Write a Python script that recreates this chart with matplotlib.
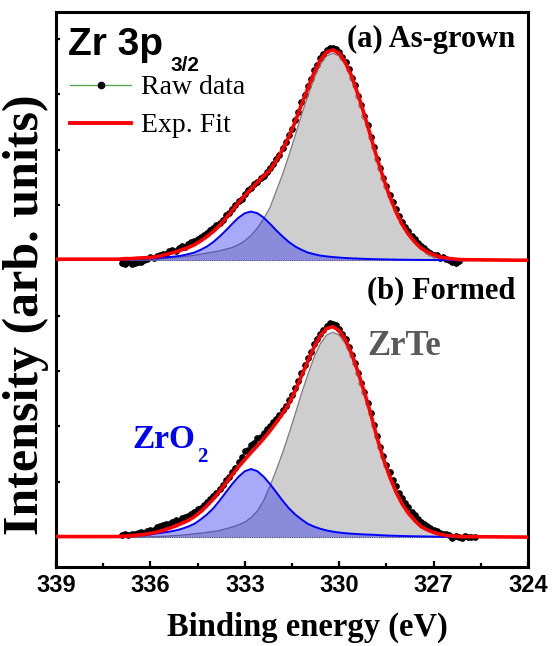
import numpy as np
import matplotlib
matplotlib.use('Agg')
import matplotlib.pyplot as plt
from matplotlib.lines import Line2D

# binding energy grid (eV) of the fitted components
energy = [337.0, 336.8, 336.6, 336.4, 336.2, 336.0, 335.8, 335.6, 335.4, 335.2,
          335.0, 334.8, 334.6, 334.4, 334.2, 334.0, 333.8, 333.6, 333.4, 333.2,
          333.0, 332.8, 332.6, 332.4, 332.2, 332.0, 331.8, 331.6, 331.4, 331.2,
          331.0, 330.8, 330.6, 330.4, 330.2, 330.0, 329.8, 329.6, 329.4, 329.2,
          329.0, 328.8, 328.6, 328.4, 328.2, 328.0, 327.8, 327.6, 327.4, 327.2,
          327.0, 326.8, 326.6, 326.4, 326.2, 326.0]
fit_energy = [339.0] + energy + [324.0]

# (a) As-grown
zrte_a = [0, 0, 0, 0.003, 0.006, 0.012, 0.02, 0.03, 0.04, 0.05,
          0.06, 0.075, 0.09, 0.11, 0.13, 0.15, 0.17, 0.20, 0.23, 0.28,
          0.35, 0.45, 0.58, 0.75, 0.95, 1.25, 1.55, 1.89, 2.25, 2.62,
          2.96, 3.28, 3.53, 3.69, 3.74, 3.69, 3.53, 3.28, 2.96, 2.60,
          2.21, 1.83, 1.47, 1.15, 0.87, 0.64, 0.46, 0.32, 0.21, 0.14,
          0.09, 0.055, 0.033, 0.02, 0.01, 0.005]
zro2_a = [0.008, 0.011, 0.015, 0.02, 0.026, 0.033, 0.04, 0.049, 0.058, 0.07,
          0.085, 0.11, 0.14, 0.19, 0.25, 0.33, 0.43, 0.54, 0.66, 0.77,
          0.85, 0.88, 0.85, 0.77, 0.66, 0.54, 0.43, 0.33, 0.25, 0.19,
          0.14, 0.11, 0.085, 0.07, 0.058, 0.049, 0.041, 0.035, 0.03, 0.026,
          0.022, 0.019, 0.016, 0.014, 0.012, 0.01, 0.009, 0.008, 0.007, 0.006,
          0.005, 0.004, 0.003, 0.002, 0.001, 0.0]
fit_a = [0.02,
         0.02, 0.03, 0.03, 0.04, 0.045, 0.05, 0.065, 0.09, 0.12, 0.15,
         0.19, 0.23, 0.28, 0.35, 0.43, 0.52, 0.63, 0.76, 0.90, 1.04,
         1.17, 1.29, 1.41, 1.52, 1.63, 1.80, 2.00, 2.23, 2.50, 2.81,
         3.10, 3.39, 3.62, 3.76, 3.80, 3.74, 3.57, 3.32, 2.99, 2.63,
         2.24, 1.85, 1.49, 1.16, 0.88, 0.65, 0.47, 0.33, 0.22, 0.15,
         0.10, 0.06, 0.04, 0.025, 0.015, 0.01,
         0.0]
raw_energy_a = np.round(np.arange(336.9, 326.15, -0.1), 1)
raw_a = [-0.05, -0.06, -0.04, -0.06, -0.05, -0.03, -0.04, 0.00, 0.03, 0.06,
         0.04, 0.08, 0.10, 0.12, 0.11, 0.16, 0.18, 0.17, 0.22, 0.25,
         0.24, 0.29, 0.33, 0.34, 0.38, 0.42, 0.45, 0.49, 0.55, 0.58,
         0.64, 0.68, 0.73, 0.82, 0.86, 0.92, 1.00, 1.07, 1.10, 1.19,
         1.27, 1.30, 1.38, 1.41, 1.49, 1.53, 1.60, 1.66, 1.74, 1.83,
         1.90, 2.03, 2.13, 2.26, 2.38, 2.54, 2.67, 2.85, 2.98, 3.15,
         3.28, 3.43, 3.53, 3.66, 3.73, 3.79, 3.83, 3.84, 3.81, 3.76,
         3.68, 3.58, 3.45, 3.30, 3.16, 2.96, 2.80, 2.60, 2.44, 2.22,
         2.04, 1.83, 1.66, 1.48, 1.34, 1.18, 1.05, 0.92, 0.80, 0.70,
         0.61, 0.52, 0.44, 0.38, 0.31, 0.26, 0.22, 0.17, 0.14, 0.10,
         0.09, 0.05, 0.06, 0.02, 0.01, -0.03, -0.05, -0.02]

# (b) Formed
zrte_b = [0, 0, 0, 0, 0.002, 0.005, 0.009, 0.014, 0.02, 0.028,
          0.035, 0.045, 0.06, 0.07, 0.085, 0.10, 0.12, 0.15, 0.18, 0.22,
          0.27, 0.35, 0.47, 0.66, 0.92, 1.21, 1.52, 1.86, 2.22, 2.59,
          2.93, 3.245, 3.49, 3.65, 3.70, 3.65, 3.49, 3.245, 2.93, 2.57,
          2.19, 1.76, 1.39, 1.07, 0.80, 0.58, 0.41, 0.28, 0.18, 0.12,
          0.075, 0.045, 0.027, 0.016, 0.008, 0.004]
zro2_b = [0.01, 0.015, 0.02, 0.028, 0.036, 0.045, 0.065, 0.08, 0.098, 0.12,
          0.15, 0.19, 0.24, 0.32, 0.41, 0.52, 0.66, 0.81, 0.96, 1.09,
          1.19, 1.23, 1.19, 1.09, 0.96, 0.81, 0.66, 0.52, 0.41, 0.32,
          0.24, 0.19, 0.15, 0.12, 0.098, 0.082, 0.07, 0.061, 0.054, 0.048,
          0.043, 0.038, 0.031, 0.027, 0.023, 0.02, 0.017, 0.015, 0.013, 0.011,
          0.009, 0.007, 0.005, 0.004, 0.002, 0.001]
fit_b = [0.01,
         0.01, 0.02, 0.025, 0.035, 0.05, 0.065, 0.09, 0.12, 0.16, 0.20,
         0.25, 0.30, 0.37, 0.46, 0.57, 0.69, 0.83, 0.98, 1.13, 1.27,
         1.40, 1.53, 1.65, 1.78, 1.92, 2.07, 2.23, 2.41, 2.64, 2.91,
         3.17, 3.43, 3.64, 3.77, 3.80, 3.73, 3.56, 3.31, 2.98, 2.62,
         2.23, 1.80, 1.42, 1.10, 0.82, 0.60, 0.43, 0.30, 0.19, 0.13,
         0.084, 0.052, 0.032, 0.02, 0.012, 0.008,
         0.0]
raw_energy_b = np.round(np.arange(336.9, 325.65, -0.1), 1)
raw_b = [0.04, 0.05, 0.03, 0.06, 0.05, 0.07, 0.09, 0.08, 0.11, 0.13,
         0.13, 0.18, 0.20, 0.21, 0.24, 0.23, 0.27, 0.30, 0.29, 0.34,
         0.36, 0.39, 0.41, 0.45, 0.50, 0.53, 0.58, 0.63, 0.69, 0.75,
         0.80, 0.86, 0.95, 1.03, 1.09, 1.18, 1.25, 1.36, 1.44, 1.55,
         1.58, 1.66, 1.70, 1.79, 1.80, 1.88, 1.95, 2.00, 2.08, 2.14,
         2.20, 2.29, 2.37, 2.48, 2.57, 2.70, 2.82, 2.97, 3.10, 3.23,
         3.35, 3.48, 3.58, 3.67, 3.74, 3.81, 3.86, 3.84, 3.83, 3.75,
         3.66, 3.57, 3.44, 3.29, 3.14, 2.97, 2.79, 2.62, 2.43, 2.24,
         2.03, 1.82, 1.63, 1.47, 1.30, 1.17, 1.03, 0.92, 0.80, 0.71,
         0.62, 0.54, 0.46, 0.40, 0.33, 0.28, 0.23, 0.20, 0.16, 0.13,
         0.11, 0.08, 0.06, 0.05, 0.03, -0.02, 0.02, 0.01, -0.01, 0.02,
         0.00, 0.01, 0.00]

x_ticks = [339, 336, 333, 330, 327, 324]
x_minor = [337.5, 334.5, 331.5, 328.5, 325.5]
legend_labels = ['Raw data', 'Exp. Fit']

SERIF = 'Liberation Serif'
SANS = 'Liberation Sans'


def main():
    fig = plt.figure(figsize=(5.53, 6.46), dpi=100)
    ax = fig.add_axes([0.1013, 0.1223, 0.8535, 0.8596])

    panels = [(5, raw_energy_a, raw_a, zrte_a, zro2_a, fit_a),
              (0, raw_energy_b, raw_b, zrte_b, zro2_b, fit_b)]
    for off, re, raw, te, o2, fit in panels:
        te = np.array(te) + off
        o2 = np.array(o2) + off
        ax.axhline(off, color='black', lw=0.8, ls=(0, (1, 1)), zorder=1)
        ax.plot(re, np.array(raw) + off, color='#55aa55', lw=0.5, marker='o',
                ms=3.8, mfc='black', mec='black', zorder=2)
        ax.fill_between(energy, off, te, color='#bababa', alpha=0.7, lw=0, zorder=3)
        ax.plot(energy, te, color='#808080', lw=1.0, zorder=4)
        ax.fill_between(energy, off, o2, color='#2828f0', alpha=0.4, lw=0, zorder=5)
        ax.plot(energy, o2, color='blue', lw=1.4, zorder=6)
        ax.plot(fit_energy, np.array(fit) + off, color='red', lw=2.6, zorder=7)

    ax.set_xlim(339, 324)
    ax.set_ylim(-0.54, 9.49)
    ax.set_xticks(x_ticks)
    ax.set_xticks(x_minor, minor=True)
    ax.set_xticklabels([str(t) for t in x_ticks], fontfamily=SANS,
                       fontweight='bold', fontsize=17)
    ax.set_yticks(range(10))
    ax.set_yticklabels([])
    ax.tick_params(axis='x', which='major', direction='in', length=4.5, width=1.6, pad=5)
    ax.tick_params(axis='x', which='minor', direction='in', length=2.8, width=1.6)
    ax.tick_params(axis='y', which='major', direction='in', length=3, width=1.6)
    for s in ax.spines.values():
        s.set_linewidth(2.2)

    # legend
    handles = [Line2D([], [], color='#55aa55', lw=1.0, marker='o', ms=4.5,
                      mfc='black', mec='black'),
               Line2D([], [], color='red', lw=2.8)]
    ax.legend(handles, legend_labels, loc='upper left', bbox_to_anchor=(0.0297, 0.886),
              frameon=False, borderpad=0, borderaxespad=0, handlelength=2.2,
              handletextpad=0.35, labelspacing=0.45, numpoints=1,
              prop={'family': SERIF, 'size': 20})

    # panel texts
    ax.text(0.025, 0.922, 'Zr 3p', transform=ax.transAxes, fontfamily=SANS,
            fontweight='bold', fontsize=28, va='baseline', ha='left')
    ax.text(0.243, 0.893, '3/2', transform=ax.transAxes, fontfamily=SANS,
            fontweight='bold', fontsize=15, va='baseline', ha='left')
    ax.text(0.9725, 0.937, '(a) As-grown', transform=ax.transAxes, fontfamily=SERIF,
            fontweight='bold', fontsize=22, va='baseline', ha='right')
    ax.text(0.9725, 0.484, '(b) Formed', transform=ax.transAxes, fontfamily=SERIF,
            fontweight='bold', fontsize=22, va='baseline', ha='right')
    ax.text(0.659, 0.382, 'ZrTe', transform=ax.transAxes, fontfamily=SERIF,
            fontweight='bold', fontsize=25, va='baseline', ha='left', color='#595959')
    ax.text(0.161, 0.2143, 'ZrO', transform=ax.transAxes, fontfamily=SERIF,
            fontweight='bold', fontsize=24, va='baseline', ha='left', color='blue')
    ax.text(0.298, 0.189, '2', transform=ax.transAxes, fontfamily=SERIF,
            fontweight='bold', fontsize=15, va='baseline', ha='left', color='blue')

    fig.text(0.555, 0.0294, 'Binding energy (eV)', fontfamily=SERIF, fontweight='bold',
             fontsize=23.5, ha='center', va='center')
    fig.text(0.047, 0.513, 'Intensity (arb. units)', fontfamily=SERIF, fontweight='bold',
             fontsize=36, ha='center', va='center', rotation=90)

    fig.savefig('out.png', dpi=100, facecolor='white')


if __name__ == '__main__':
    main()
